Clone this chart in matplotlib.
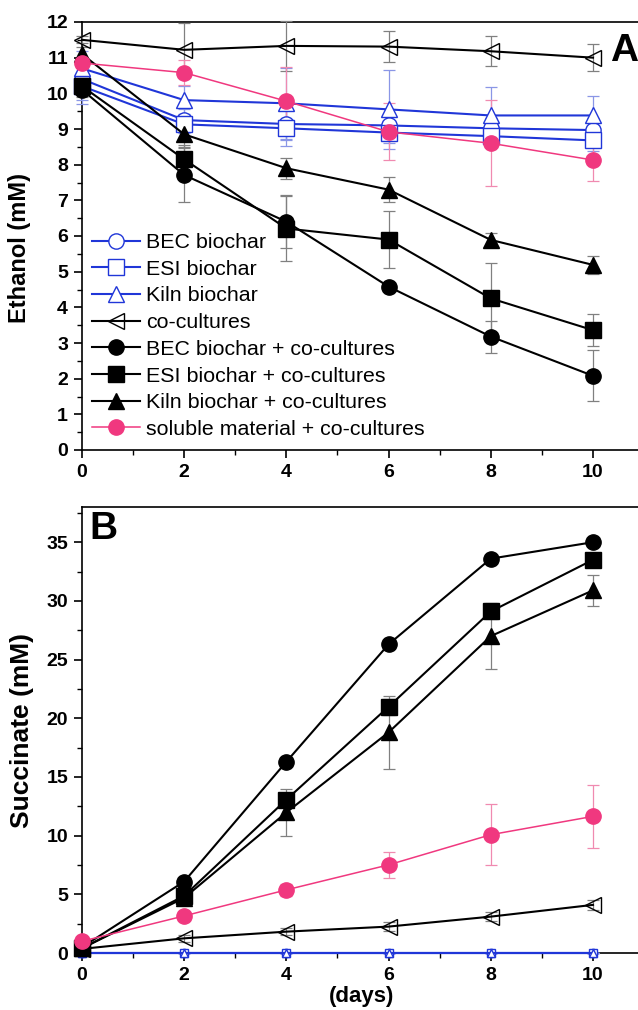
import matplotlib
matplotlib.use('Agg')
import matplotlib.pyplot as plt
from matplotlib.ticker import MultipleLocator

plt.rcParams['font.family'] = ['Liberation Sans', 'DejaVu Sans']

days = [0, 2, 4, 6, 8, 10]

labels = ['BEC biochar', 'ESI biochar', 'Kiln biochar', 'co-cultures',
          'BEC biochar + co-cultures', 'ESI biochar + co-cultures',
          'Kiln biochar + co-cultures', 'soluble material + co-cultures']

# ethanol (mM), panel A
eth_bec = [10.4, 9.25, 9.14, 9.1, 9.02, 8.97]
eth_esi = [10.2, 9.13, 9.02, 8.9, 8.8, 8.68]
eth_kiln = [10.7, 9.81, 9.72, 9.55, 9.38, 9.38]
eth_co = [11.5, 11.22, 11.33, 11.31, 11.18, 11.0]
eth_bec_co = [10.1, 7.71, 6.4, 4.58, 3.18, 2.08]
eth_esi_co = [10.2, 8.15, 6.21, 5.9, 4.25, 3.36]
eth_kiln_co = [11.1, 8.85, 7.9, 7.3, 5.89, 5.19]
eth_sol = [10.85, 10.58, 9.78, 8.92, 8.6, 8.13]

eth_bec_err = [0.6, 0.3, 0.45, 0.3, 0.3, 0.35]
eth_esi_err = [0.5, 0.25, 0.5, 0.3, 0.3, 0.3]
eth_kiln_err = [0.5, 0.4, 1.0, 1.1, 0.8, 0.55]
eth_co_err = [0.1, 0.75, 0.7, 0.43, 0.42, 0.37]
eth_bec_co_err = [0.2, 0.75, 0.75, 0.1, 0.45, 0.72]
eth_esi_co_err = [0.2, 0.4, 0.9, 0.8, 1.0, 0.45]
eth_kiln_co_err = [0.2, 0.35, 0.3, 0.35, 0.2, 0.25]
eth_sol_err = [0.15, 0.35, 0.95, 0.8, 1.2, 0.58]

# succinate (mM), panel B
suc_bec = [0, 0, 0, 0, 0, 0]
suc_esi = [0, 0, 0, 0, 0, 0]
suc_kiln = [0, 0, 0, 0, 0, 0]
suc_co = [0.35, 1.25, 1.82, 2.25, 3.1, 4.1]
suc_bec_co = [0.5, 6.09, 16.3, 26.3, 33.6, 35.0]
suc_esi_co = [0.4, 4.87, 13.07, 20.98, 29.1, 33.5]
suc_kiln_co = [0.4, 4.7, 11.98, 18.8, 27.0, 30.9]
suc_sol = [1.0, 3.16, 5.38, 7.51, 10.08, 11.64]

suc_zero_err = [0, 0, 0, 0, 0, 0]
suc_co_err = [0.1, 0.3, 0.3, 0.35, 0.4, 0.4]
suc_bec_co_err = [0.1, 0.4, 0.4, 0.4, 0.3, 0.3]
suc_esi_co_err = [0.1, 0.5, 0.6, 0.7, 0.6, 0.5]
suc_kiln_co_err = [0.1, 0.6, 2.0, 3.1, 2.8, 1.3]
suc_sol_err = [0.1, 0.4, 0.5, 1.1, 2.6, 2.7]

blue = '#2036d8'
pink = '#f0387f'

W, H = 638, 1010
fig = plt.figure(figsize=(W / 100, H / 100), dpi=100)
left = 82 / W
width = 0.95
axA = fig.add_axes([left, 1 - 450 / H, width, 428 / H])
axB = fig.add_axes([left, 1 - 953 / H, width, 446 / H])


def draw(ax, data, errs, small_blue=False):
    styles = [
        dict(marker='o', color=blue, mfc='white', ecolor='#8a96e6'),
        dict(marker='s', color=blue, mfc='white', ecolor='#8a96e6'),
        dict(marker='^', color=blue, mfc='white', ecolor='#8a96e6'),
        dict(marker='<', color='black', mfc='none', ecolor='#808080'),
        dict(marker='o', color='black', mfc='black', ecolor='#808080'),
        dict(marker='s', color='black', mfc='black', ecolor='#808080'),
        dict(marker='^', color='black', mfc='black', ecolor='#808080'),
        dict(marker='o', color=pink, mfc=pink, ecolor='#f08ab0'),
    ]
    handles = []
    for i, (y, e, st, lab) in enumerate(zip(data, errs, styles, labels)):
        ms = 11
        lw = 1.5 if i < 7 else 1.1
        if small_blue and i < 3:
            ms = 6
        c = ax.errorbar(days, y, yerr=e, marker=st['marker'], color=st['color'],
                        mfc=st['mfc'], mec=st['color'], ms=ms, lw=lw,
                        ecolor=st['ecolor'], elinewidth=0.9, capsize=4,
                        capthick=0.9, label=lab, clip_on=False, zorder=3)
        handles.append(c[0])
    return handles


hA = draw(axA, [eth_bec, eth_esi, eth_kiln, eth_co, eth_bec_co, eth_esi_co, eth_kiln_co, eth_sol],
          [eth_bec_err, eth_esi_err, eth_kiln_err, eth_co_err, eth_bec_co_err, eth_esi_co_err,
           eth_kiln_co_err, eth_sol_err])
draw(axB, [suc_bec, suc_esi, suc_kiln, suc_co, suc_bec_co, suc_esi_co, suc_kiln_co, suc_sol],
     [suc_zero_err, suc_zero_err, suc_zero_err, suc_co_err, suc_bec_co_err, suc_esi_co_err,
      suc_kiln_co_err, suc_sol_err], small_blue=True)

xmax = width * W / 51.1
for ax in (axA, axB):
    ax.set_xlim(0, xmax)
    ax.set_xticks(days)
    ax.xaxis.set_minor_locator(MultipleLocator(1))
    ax.spines['right'].set_visible(False)
    for s in ax.spines.values():
        s.set_linewidth(1.2)
    ax.tick_params(which='major', direction='out', length=6, width=1.2, labelsize=14, pad=4)
    ax.tick_params(which='minor', direction='out', length=3.5, width=1.0)
    for t in ax.get_xticklabels() + ax.get_yticklabels():
        t.set_fontweight('bold')

axA.set_ylim(0, 12)
axA.yaxis.set_major_locator(MultipleLocator(1))
axA.yaxis.set_minor_locator(MultipleLocator(0.5))
axA.set_ylabel('Ethanol (mM)', fontsize=17, fontweight='bold')
axA.yaxis.set_label_coords(-0.084, 0.472)
axA.text(10.33, 11.2, 'A', fontsize=28, fontweight='bold', va='center', ha='left')
axA.legend(handles=hA, labels=labels, loc='upper left', bbox_to_anchor=(92 / W, 1 - 233 / H),
           bbox_transform=fig.transFigure, frameon=False, borderpad=0, borderaxespad=0,
           handlelength=2.25, handletextpad=0.28, labelspacing=0.36, fontsize=15.4)

axB.set_ylim(0, 38)
axB.yaxis.set_major_locator(MultipleLocator(5))
axB.yaxis.set_minor_locator(MultipleLocator(2.5))
axB.set_ylabel('Succinate (mM)', fontsize=19, fontweight='bold')
axB.yaxis.set_label_coords(-0.08, 0.5)
axB.set_xlabel('(days)', fontsize=16, fontweight='bold', labelpad=0)
axB.xaxis.set_label_coords((362 - 82) / (width * W), -0.074)
axB.text(0.15, 36.1, 'B', fontsize=28, fontweight='bold', va='center', ha='left')

fig.savefig('out.png', dpi=100)
